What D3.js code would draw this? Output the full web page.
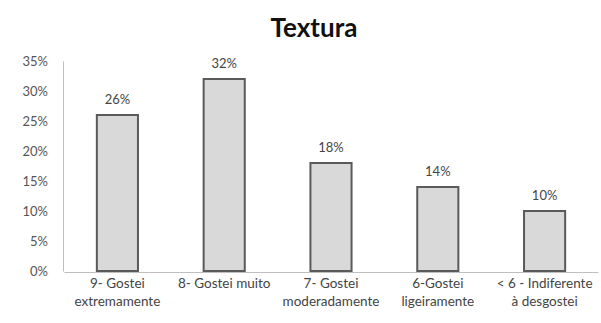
<!DOCTYPE html>
<html><head><meta charset="utf-8">
<script src="https://cdn.jsdelivr.net/npm/d3@7"></script>
<style>body{margin:0;background:#fff}svg{display:block}</style>
</head><body>
<svg id="c" width="601" height="323"></svg>
<script>
const categories = [["9- Gostei","extremamente"],["8- Gostei muito"],["7- Gostei","moderadamente"],["6-Gostei","ligeiramente"],["< 6 - Indiferente","à desgostei"]];
const values = [26, 32, 18, 14, 10];
const yTicks = [0, 5, 10, 15, 20, 25, 30, 35];
const title = "Textura";

const svg = d3.select("#c");
const font = "Lato, 'Open Sans', sans-serif";
const x = d3.scaleBand().domain(d3.range(values.length)).range([64, 598]).paddingInner(0.615).paddingOuter(0.3075);
const y = d3.scaleLinear().domain([0, 35]).range([271, 61]);

svg.append("text").attr("x", 314).attr("y", 37).attr("text-anchor", "middle")
  .attr("font-family", font).attr("font-weight", "bold").attr("font-size", 26).attr("fill", "#111").text(title);

// y axis
const ya = svg.append("g").attr("transform", "translate(63,0)").call(d3.axisLeft(y).tickValues(yTicks).tickSize(0).tickPadding(15).tickFormat(d => d + "%"));
ya.select(".domain").attr("stroke", "#bfbfbf");
ya.selectAll("text").attr("font-family", font).attr("font-size", 13).attr("fill", "#555");

// bars
svg.selectAll("rect.bar").data(values).join("rect").attr("class", "bar")
  .attr("x", (d, i) => x(i)).attr("width", x.bandwidth())
  .attr("y", d => y(d)).attr("height", d => y(0) - y(d))
  .attr("fill", "#d9d9d9").attr("stroke", "#5a5a5a").attr("stroke-width", 2);

// x axis
const xa = svg.append("g").attr("transform", "translate(0,272)").call(d3.axisBottom(x).tickSize(0).tickFormat(""));
xa.select(".domain").attr("stroke", "#bfbfbf");

// value labels
svg.selectAll("text.val").data(values).join("text").attr("class", "val")
  .attr("x", (d, i) => x(i) + x.bandwidth() / 2).attr("y", d => y(d) - 11)
  .attr("text-anchor", "middle").attr("font-family", font).attr("font-size", 13).attr("fill", "#444")
  .text(d => d + "%");

// category labels
const cl = svg.selectAll("text.cat").data(categories).join("text").attr("class", "cat")
  .attr("text-anchor", "middle").attr("font-family", font).attr("font-size", 13.5).attr("fill", "#444");
cl.each(function(lines, i) {
  const t = d3.select(this);
  lines.forEach((ln, j) => {
    t.append("tspan").attr("x", x(i) + x.bandwidth() / 2).attr("y", 288 + j * 18).text(ln);
  });
});
</script>
</body></html>
